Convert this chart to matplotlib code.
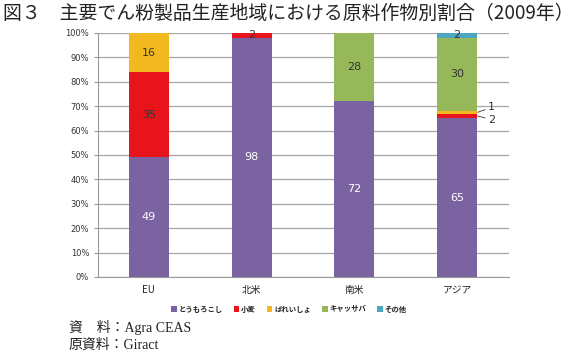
import matplotlib.pyplot as plt
import numpy as np

plt.rcParams['font.family'] = ['Noto Sans CJK JP', 'DejaVu Sans']

#------------------------------------------- Data -------------------------------------#
regions = ["EU", "北米", "南米", "アジア"]
crops = ["とうもろこし", "小麦", "ばれいしょ", "キャッサバ", "その他"]
corn = [49, 98, 72, 65]
wheat = [35, 2, 0, 2]
potato = [16, 0, 0, 1]
cassava = [0, 0, 28, 30]
other = [0, 0, 0, 2]
yticks = [0, 10, 20, 30, 40, 50, 60, 70, 80, 90, 100]

colors = ["#7B62A0", "#E8141C", "#F3B820", "#97B858", "#4BA8C0"]
series = [corn, wheat, potato, cassava, other]

#------------------------------------------- Plot -------------------------------------#
fig = plt.figure(figsize=(5.75, 3.55), dpi=100)
ax = fig.add_axes([97.5 / 575, 1 - 277 / 355, 411 / 575, 244 / 355])

x = np.arange(len(regions))
bottom = np.zeros(len(regions))
bars = []
for vals, col, name in zip(series, colors, crops):
    b = ax.bar(x, vals, 0.39, bottom=bottom, color=col, label=name, zorder=3)
    bars.append(b)
    bottom += np.array(vals)

# value labels inside segments
for si, (vals, b) in enumerate(zip(series, bars)):
    for i, rect in enumerate(b):
        v = vals[i]
        if v == 0:
            continue
        if regions[i] == "アジア" and si in (1, 2):
            continue
        cy = rect.get_y() + rect.get_height() / 2
        tc = "white" if si == 0 else "#333333"
        ax.text(rect.get_x() + rect.get_width() / 2, cy, str(v),
                ha="center", va="center", fontsize=8, color=tc,
                family=["DejaVu Sans"], zorder=5)

# leader labels for the small Asia segments
ai = regions.index("アジア")
r_w = bars[1][ai]
r_p = bars[2][ai]
ax.annotate(str(potato[ai]), xy=(ai + 0.2, r_p.get_y() + r_p.get_height() / 2),
            xytext=(ai + 0.3, 69.5), fontsize=8, color="#333333",
            va="center", family=["DejaVu Sans"],
            arrowprops=dict(arrowstyle="-", color="#333333", lw=0.6, shrinkA=0, shrinkB=0))
ax.annotate(str(wheat[ai]), xy=(ai + 0.2, r_w.get_y() + r_w.get_height() / 2),
            xytext=(ai + 0.3, 64.5), fontsize=8, color="#333333",
            va="center", family=["DejaVu Sans"],
            arrowprops=dict(arrowstyle="-", color="#333333", lw=0.6, shrinkA=0, shrinkB=0))

ax.set_xlim(-0.5, len(regions) - 0.5)
ax.set_ylim(0, 100)
ax.set_yticks(yticks)
ax.set_yticklabels([f"{t}%" for t in yticks], family=["DejaVu Sans"])
ax.set_xticks(x)
ax.set_xticklabels(regions)
ax.tick_params(axis="y", labelsize=6, colors="#333333", length=3, width=0.8,
               direction="out", pad=3)
ax.tick_params(axis="y", color="#999999")
ax.tick_params(axis="x", labelsize=7, colors="#222222", length=0, pad=6)
ax.yaxis.grid(True, color="#A6A6A6", lw=0.9, zorder=0)
for s in ["top", "right"]:
    ax.spines[s].set_visible(False)
ax.spines["left"].set_color("#999999")
ax.spines["bottom"].set_color("#999999")

leg = fig.legend(loc="center", bbox_to_anchor=(289 / 575, 1 - 309 / 355), ncol=5,
                 frameon=False, prop={"size": 5.3, "weight": "bold"},
                 handlelength=0.75, handleheight=0.75,
                 handletextpad=0.25, columnspacing=1.5)
for t in leg.get_texts():
    t.set_color("#222222")

fig.text(3 / 575, 1 - 13 / 355, "図３　主要でん粉製品生産地域における原料作物別割合（2009年）",
         fontsize=13.6, va="center", ha="left", color="#222222")
serif = ["Liberation Serif", "Noto Sans CJK JP"]
fig.text(69 / 575, 1 - 327 / 355, "資　料：Agra CEAS", fontsize=10,
         va="center", ha="left", family=serif, color="#222222")
fig.text(69 / 575, 1 - 345 / 355, "原資料：Giract", fontsize=10,
         va="center", ha="left", family=serif, color="#222222")

fig.savefig("out.png", dpi=100)
